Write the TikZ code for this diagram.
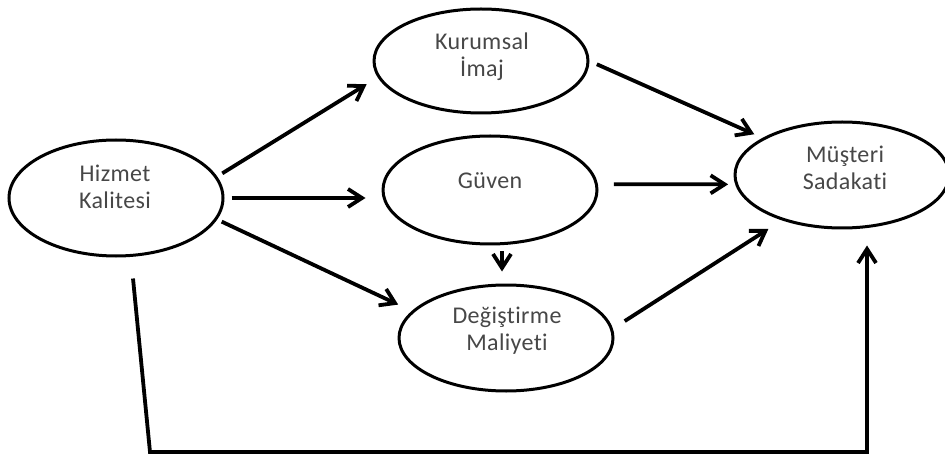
\documentclass[tikz,border=0pt]{standalone}
\usepackage{fontspec}
\setmainfont{Carlito}[Ligatures=NoCommon, LetterSpace=1.5]
\usetikzlibrary{shapes.geometric, arrows.meta}

\tikzset{
	var/.style={ellipse, draw, line width=1.5pt, inner sep=0pt, minimum width=107pt},
	varname/.style={align=center, text=black!72, font=\fontsize{12}{13.5}\selectfont},
	link/.style={line width=1.9pt, -{Straight Barb[length=7pt, width=9pt]}},
}

\begin{document}
\begin{tikzpicture}[x=0.5pt, y=-0.5pt]
	\useasboundingbox (0,0) rectangle (945,459);
	\foreach \vname/\vx/\vy/\vh/\tx/\ty/\vtext in {hk/116/198/58/115/187/{Hizmet\\Kalitesi}, ki/481/61/52/482/57/{Kurumsal\\İmaj}, gv/490/190/54/490/181/{Güven}, dm/506/338/53/507/331/{Değiştirme\\Maliyeti}, ms/842/175/53/845/168/{Müşteri\\Sadakati}} {
		\node[var, minimum height=\vh pt] (\vname) at (\vx,\vy) {};
		\node[varname] (\vname-t) at (\tx,\ty) {\vtext};
	}
	\draw[link, shorten <=3pt, shorten >=6.5pt] (hk.12) -- (ki.189);
	\draw[link, shorten <=3.5pt, shorten >=8pt] (hk.east) -- (hk.east -| gv.west);
	\draw[link, shorten <=2.5pt, shorten >=7.5pt] (hk.348) -- (dm.164);
	\draw[link, shorten <=4pt, shorten >=4.5pt] (ki.east) -- (ms.155);
	\draw[link, shorten <=8pt, shorten >=3.5pt] (gv.3) -- (ms.185);
	\draw[link, shorten <=3pt, shorten >=6pt] ([xshift=6pt]gv.south) -- ([xshift=6pt]gv.south |- dm.north);
	\draw[link, shorten <=7pt, shorten >=8pt] (dm.5) -- (ms.217);
	\coordinate (loop-sw) at (150,452);
	\coordinate (loop-se) at (867,452);
	\draw[link, shorten >=8pt] ([xshift=8.5pt, yshift=-10.5pt]hk.south) -- (loop-sw) -- (loop-se) -- (loop-se |- ms.south);
\end{tikzpicture}
\end{document}
